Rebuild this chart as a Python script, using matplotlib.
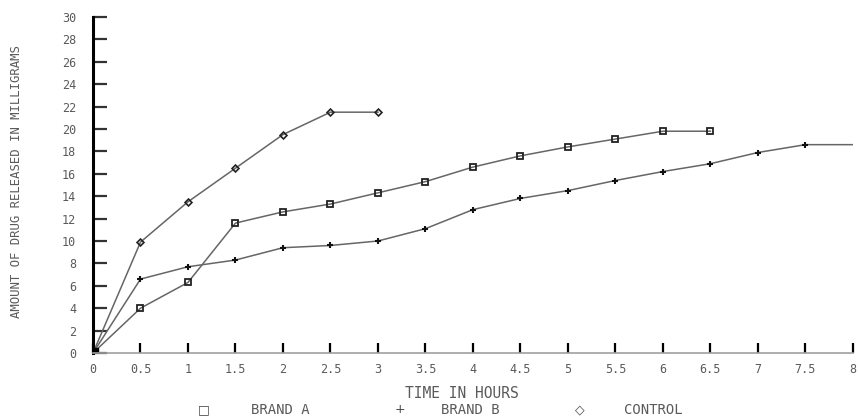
import matplotlib
matplotlib.use("Agg")
import matplotlib.pyplot as plt
import numpy as np

# values
brand_a_hours = [0, 0.5, 1, 1.5, 2, 2.5, 3, 3.5, 4, 4.5, 5, 5.5, 6, 6.5]
brand_a_mg = [0, 4.0, 6.3, 11.6, 12.6, 13.3, 14.3, 15.3, 16.6, 17.6, 18.4, 19.1, 19.8, 19.8]

brand_b_hours = [0, 0.5, 1, 1.5, 2, 2.5, 3, 3.5, 4, 4.5, 5, 5.5, 6, 6.5, 7, 7.5, 8]
brand_b_mg = [0, 6.6, 7.7, 8.3, 9.4, 9.6, 10.0, 11.1, 12.8, 13.8, 14.5, 15.4, 16.2, 16.9, 17.9, 18.6, 18.6]

control_hours = [0, 0.5, 1, 1.5, 2, 2.5, 3]
control_mg = [0, 9.9, 13.5, 16.5, 19.5, 21.5, 21.5]

x_ticks = np.arange(0, 8.5, 0.5)
x_labels = ["0", "0.5", "1", "1.5", "2", "2.5", "3", "3.5", "4", "4.5",
            "5", "5.5", "6", "6.5", "7", "7.5", "8"]
y_ticks = np.arange(0, 32, 2)

mono = "DejaVu Sans Mono"
txt_col = "#5a5a5a"

fig = plt.figure(figsize=(8.58, 4.19), dpi=100)
ax = fig.add_axes([0.1084, 0.1575, 0.8856, 0.802])

line_col = "#666666"
ax.plot(brand_a_hours, brand_a_mg, color=line_col, lw=1.1, marker="s",
        ms=4.5, mfc="none", mec="#222222", mew=1.3)
ax.plot(brand_b_hours, brand_b_mg, color=line_col, lw=1.1, marker="+",
        ms=5, mec="#111111", mew=1.5, markevery=slice(0, 16))
ax.plot(control_hours, control_mg, color=line_col, lw=1.1, marker="D",
        ms=3.5, mfc="none", mec="#222222", mew=1.2)
ax.plot([0], [0], marker="s", ms=7, color="black")

ax.set_xlim(0, 8)
ax.set_ylim(0, 30)
ax.set_xticks(x_ticks)
ax.set_xticklabels(x_labels)
ax.set_yticks(y_ticks)

for s in ["top", "right"]:
    ax.spines[s].set_visible(False)
ax.spines["left"].set_linewidth(2.2)
ax.spines["left"].set_color("black")
ax.spines["bottom"].set_linewidth(1.2)
ax.spines["bottom"].set_color("#a0a0a0")

ax.tick_params(axis="y", direction="in", length=10, width=1.6, color="#333333",
               pad=12, labelsize=8.5, labelcolor=txt_col)
ax.tick_params(axis="x", direction="in", length=7, width=1.6, color="black",
               pad=7, labelsize=8.5, labelcolor=txt_col)
for lab in ax.get_xticklabels() + ax.get_yticklabels():
    lab.set_family(mono)

ax.set_ylabel("AMOUNT OF DRUG RELEASED IN MILLIGRAMS", fontsize=8.8,
              color=txt_col, family=mono)
ax.yaxis.set_label_coords(-0.092, 0.51)

fig.text(0.538, 0.062, "TIME IN HOURS", ha="center", va="center",
         fontsize=10.5, color=txt_col, family=mono)

leg_y = 0.022
fig.text(0.237, leg_y, "\u25a1", ha="center", va="center", fontsize=9, color="#444444")
fig.text(0.327, leg_y, "BRAND A", ha="center", va="center", fontsize=10,
         color=txt_col, family=mono)
fig.text(0.466, leg_y, "+", ha="center", va="center", fontsize=9, color="#444444")
fig.text(0.548, leg_y, "BRAND B", ha="center", va="center", fontsize=10,
         color=txt_col, family=mono)
fig.text(0.676, leg_y, "\u25c7", ha="center", va="center", fontsize=9, color="#444444")
fig.text(0.761, leg_y, "CONTROL", ha="center", va="center", fontsize=10,
         color=txt_col, family=mono)

fig.savefig("out.png", dpi=100)
